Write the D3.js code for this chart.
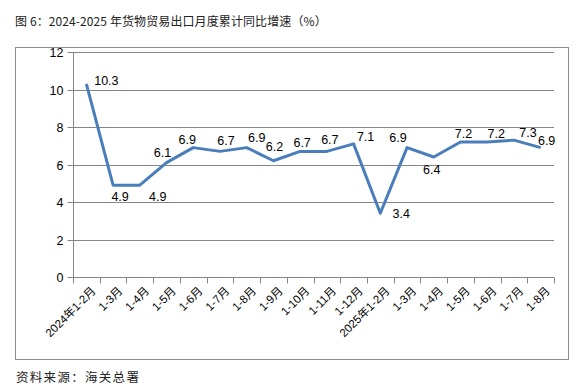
<!DOCTYPE html>
<html><head><meta charset="utf-8">
<script src="https://cdn.jsdelivr.net/npm/d3@7/dist/d3.min.js"></script>
<style>
body{margin:0;background:#fff;}
svg{display:block;}
</style></head>
<body><svg id="c" width="585" height="388"></svg>
<script>
const title = "图 6：2024-2025 年货物贸易出口月度累计同比增速（%）";
const source = "资料来源：海关总署";
const categories = ["2024年1-2月","1-3月","1-4月","1-5月","1-6月","1-7月","1-8月","1-9月","1-10月","1-11月","1-12月","2025年1-2月","1-3月","1-4月","1-5月","1-6月","1-7月","1-8月"];
const values = [10.3,4.9,4.9,6.1,6.9,6.7,6.9,6.2,6.7,6.7,7.1,3.4,6.9,6.4,7.2,7.2,7.3,6.9];
const yTicks = [0,2,4,6,8,10,12];
// label offsets (layout only)
const labelOffsets = [[20,-3],[7,11],[18,11],[-4,-10],[-6,-8],[6,-11],[10,-10],[1,-14],[2,-9],[3,-12],[12,-7],[21,0],[-9,-10],[-2,13],[3,-8],[9,-8],[14,-8],[6,-7]];

const svg = d3.select("#c");
const m = {left:73, right:554, top:52, bottom:277};
const idx = d3.range(categories.length);
const x = d3.scaleBand().domain(idx).range([m.left, m.right]);
const cx = i => x(i) + x.bandwidth()/2;
const y = d3.scaleLinear().domain([0,12]).range([m.bottom, m.top]);
const grid = "#868686";
const numFont = "'Liberation Sans','Noto Sans CJK SC',sans-serif";

// frame
svg.append("rect").attr("x",15.5).attr("y",47.5).attr("width",553).attr("height",312)
  .attr("fill","none").attr("stroke","#8c8c8c").attr("stroke-width",1);

// gridlines
svg.append("g").selectAll("line").data(yTicks.filter(d=>d>0)).join("line")
  .attr("x1",m.left).attr("x2",m.right)
  .attr("y1",d=>Math.round(y(d))+0.5).attr("y2",d=>Math.round(y(d))+0.5)
  .attr("stroke",grid).attr("stroke-width",1);

// y axis
const ya = svg.append("g").attr("transform",`translate(${m.left+0.5},0.5)`)
  .call(d3.axisLeft(y).tickValues(yTicks).tickSize(6).tickPadding(4).tickFormat(d3.format("d")));
ya.select(".domain").attr("stroke",grid).attr("d",`M0,${m.top-0.5}V${m.bottom-0.5}`);
ya.selectAll(".tick line").attr("stroke",grid);
ya.selectAll(".tick").attr("transform",d=>`translate(0,${Math.round(y(d))})`);
ya.selectAll("text").attr("font-family",numFont).attr("font-size",12.5).attr("fill","#000");

// x axis
const xa = svg.append("g").attr("transform",`translate(0,${Math.round(m.bottom)+0.5})`);
xa.append("line").attr("x1",m.left).attr("x2",m.right).attr("stroke",grid);
const edges = idx.map(i=>x(i)).concat([m.right]);
xa.selectAll("line.t").data(edges).join("line").attr("class","t")
  .attr("x1",d=>Math.round(d)+0.5).attr("x2",d=>Math.round(d)+0.5).attr("y1",0).attr("y2",6)
  .attr("stroke",grid);
xa.selectAll("text").data(idx).join("text")
  .attr("transform",i=>`translate(${cx(i)+4},8) rotate(-45)`)
  .attr("text-anchor","end").attr("dy","0.75em")
  .attr("font-family",numFont).attr("font-size",11.5).attr("fill","#000")
  .text(i=>categories[i]);

// line
const line = d3.line().x((d,i)=>cx(i)).y(d=>y(d));
svg.append("path").datum(values).attr("d",line).attr("fill","none")
  .attr("stroke","#4a7ebb").attr("stroke-width",3).attr("stroke-linejoin","round");

// data labels
svg.append("g").selectAll("text").data(values).join("text")
  .attr("x",(d,i)=>cx(i)+labelOffsets[i][0])
  .attr("y",(d,i)=>y(d)+labelOffsets[i][1])
  .attr("text-anchor","middle").attr("dy","0.35em")
  .attr("font-family",numFont).attr("font-size",12.5).attr("fill","#000")
  .text(d=>d.toFixed(1));

// title & source
svg.append("text").attr("x",15).attr("y",26).attr("font-family","'Noto Sans CJK SC',sans-serif")
  .attr("font-size",12).attr("fill","#222").attr("letter-spacing",0.1).text(title);
svg.append("text").attr("x",16).attr("y",382).attr("font-family","'Noto Sans CJK SC',sans-serif")
  .attr("font-size",12.5).attr("fill","#222").attr("letter-spacing",1.3).text(source);
</script></body></html>
